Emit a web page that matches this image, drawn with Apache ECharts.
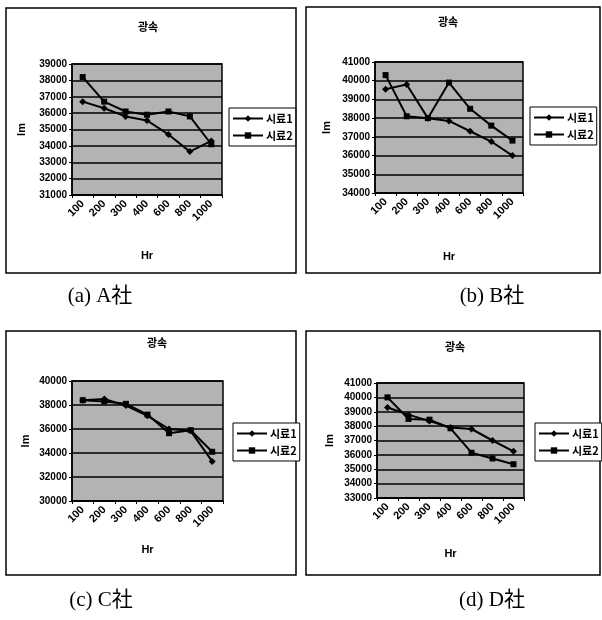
<!DOCTYPE html>
<html>
<head>
<meta charset="utf-8">
<script src="https://cdn.jsdelivr.net/npm/echarts@6/dist/echarts.min.js"></script>
<style>
html,body{margin:0;padding:0;background:#fff;}
#c{width:602px;height:620px;}
</style>
</head>
<body>
<div id="c"></div>
<script>
const categories = ['100','200','300','400','600','800','1000'];
const seriesNames = ['시료1','시료2'];
const chartTitle = '광속';
const xName = 'Hr';
const yName = 'lm';
const captions = ['(a) A社','(b) B社','(c) C社','(d) D社'];

const aS1 = [36700, 36300, 35800, 35550, 34700, 33650, 34300];
const aS2 = [38200, 36700, 36100, 35900, 36100, 35800, 34100];
const bS1 = [39550, 39800, 38000, 37850, 37300, 36750, 36000];
const bS2 = [40300, 38100, 38000, 39900, 38500, 37600, 36800];
const cS1 = [38400, 38500, 37950, 37100, 36000, 35850, 33300];
const cS2 = [38400, 38300, 38100, 37200, 35650, 35900, 34100];
const dS1 = [39300, 38800, 38350, 37900, 37800, 37000, 36250];
const dS2 = [40000, 38500, 38450, 37850, 36150, 35750, 35350];

const yA = {min:31000, max:39000, interval:1000};
const yB = {min:34000, max:41000, interval:1000};
const yC = {min:30000, max:40000, interval:2000};
const yD = {min:33000, max:41000, interval:1000};

const panels = [
  {s1:aS1, s2:aS2, y:yA, grid:{left:72, top:64, width:150, height:131},
   box:[6,8,290,265], title:[148,27], legend:{left:229, top:108}, yGap:45, xGap:55, cap:[100,296]},
  {s1:bS1, s2:bS2, y:yB, grid:{left:375, top:62, width:148, height:131},
   box:[306,7,294,266], title:[448,22], legend:{left:530, top:107}, yGap:43, xGap:58, cap:[492,296]},
  {s1:cS1, s2:cS2, y:yC, grid:{left:72, top:381, width:151, height:120},
   box:[6,331,290,244], title:[157,343], legend:{left:233, top:423}, yGap:41, xGap:43, cap:[101,600]},
  {s1:dS1, s2:dS2, y:yD, grid:{left:377, top:383, width:147, height:115},
   box:[306,331,294,244], title:[455,347], legend:{left:535, top:423}, yGap:42, xGap:50, cap:[492,600]}
];

const latin = 'Liberation Sans, Arial, sans-serif';
const kr = '"Noto Sans CJK KR", sans-serif';

const option = {
  animation:false,
  backgroundColor:'#fff',
  grid:[], xAxis:[], yAxis:[], series:[], legend:[], graphic:[]
};

panels.forEach((p, i) => {
  option.grid.push(Object.assign({show:true, backgroundColor:'#b3b3b3', borderColor:'#000', borderWidth:1.5, containLabel:false}, p.grid));
  option.xAxis.push({
    type:'category', gridIndex:i, data:categories, boundaryGap:true,
    name:xName, nameLocation:'middle', nameGap:p.xGap,
    nameTextStyle:{fontFamily:latin, fontWeight:'bold', fontSize:11, color:'#000'},
    axisLine:{lineStyle:{color:'#000', width:1.5}},
    axisTick:{show:true, length:3, lineStyle:{color:'#000'}},
    axisLabel:{rotate:45, interval:0, margin:7, fontFamily:latin, fontWeight:'bold', fontSize:11, color:'#000'},
    splitLine:{show:false}
  });
  option.yAxis.push({
    type:'value', gridIndex:i, min:p.y.min, max:p.y.max, interval:p.y.interval,
    name:yName, nameLocation:'middle', nameGap:p.yGap,
    nameTextStyle:{fontFamily:latin, fontWeight:'bold', fontSize:11, color:'#000'},
    axisLine:{show:true, lineStyle:{color:'#000', width:1.5}},
    axisTick:{show:true, length:3, lineStyle:{color:'#000'}},
    axisLabel:{margin:5, fontFamily:latin, fontWeight:'bold', fontSize:10, color:'#000', formatter:v => String(v)},
    splitLine:{show:true, lineStyle:{color:'#000', width:1.5}}
  });
  option.series.push({
    type:'line', name:seriesNames[0], xAxisIndex:i, yAxisIndex:i, data:p.s1,
    symbol:'diamond', symbolSize:7, color:'#000',
    itemStyle:{color:'#000'}, lineStyle:{color:'#000', width:2}
  });
  option.series.push({
    type:'line', name:seriesNames[1], xAxisIndex:i, yAxisIndex:i, data:p.s2,
    symbol:'rect', symbolSize:6, color:'#000',
    itemStyle:{color:'#000'}, lineStyle:{color:'#000', width:2}
  });
  option.legend.push({
    data:seriesNames, orient:'vertical', left:p.legend.left, top:p.legend.top,
    padding:[5,3,5,3], itemGap:6, itemWidth:30, itemHeight:8,
    borderColor:'#000', borderWidth:1, backgroundColor:'#fff',
    selectedMode:false,
    textStyle:{fontFamily:kr, fontWeight:'bold', fontSize:11, color:'#000', padding:[0,0,0,-2]}
  });
  option.graphic.push({
    type:'rect', z:-10, silent:true,
    shape:{x:p.box[0], y:p.box[1], width:p.box[2], height:p.box[3]},
    style:{fill:'none', stroke:'#000', lineWidth:1.5}
  });
  option.graphic.push({
    type:'text', silent:true, x:p.title[0], y:p.title[1],
    style:{text:chartTitle, fontFamily:kr, fontWeight:'bold', fontSize:11, fill:'#000', align:'center', verticalAlign:'middle'}
  });
  option.graphic.push({
    type:'text', silent:true, x:p.cap[0], y:p.cap[1],
    style:{text:captions[i], fontFamily:'"Liberation Serif", "Noto Sans CJK JP", serif', fontSize:21, fill:'#000', align:'center', verticalAlign:'middle'}
  });
});

const chart = echarts.init(document.getElementById('c'), null, {renderer:'canvas'});
chart.setOption(option);
</script>
</body>
</html>
